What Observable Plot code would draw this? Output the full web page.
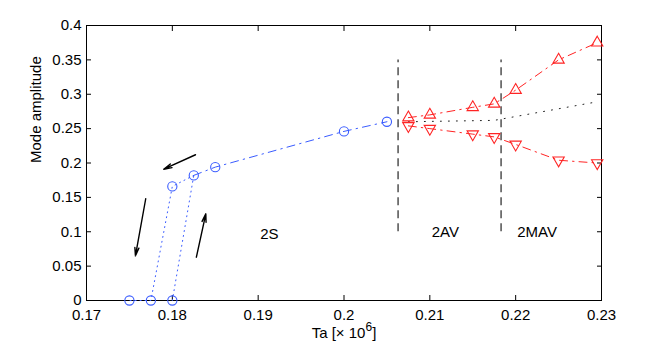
<!DOCTYPE html>
<html>
<head>
<meta charset="utf-8">
<script src="https://cdn.jsdelivr.net/npm/d3@7"></script>
<script src="https://cdn.jsdelivr.net/npm/@observablehq/plot@0.6"></script>
<style>
  html, body { margin: 0; padding: 0; background: #fff; }
</style>
</head>
<body>
<div id="chart"></div>
<script>
// ---- data ----
const xTicks = [0.17, 0.18, 0.19, 0.2, 0.21, 0.22, 0.23];
const yTicks = [0, 0.05, 0.1, 0.15, 0.2, 0.25, 0.3, 0.35, 0.4];

// 2S branch (blue circles)
const blueX = [0.175, 0.1775, 0.18, 0.18, 0.1825, 0.185, 0.2, 0.205];
const blueY = [0, 0, 0, 0.166, 0.182, 0.194, 0.246, 0.260];
// decreasing Ta path (dotted)
const blueDownX = [0.1825, 0.18, 0.1775, 0.175];
const blueDownY = [0.182, 0.166, 0, 0];
// increasing Ta jump (dotted)
const blueUpX = [0.18, 0.1825];
const blueUpY = [0, 0.182];
// main 2S branch (dash-dot)
const blueMainX = [0.1825, 0.185, 0.2, 0.205];
const blueMainY = [0.182, 0.194, 0.246, 0.260];

// 2AV / 2MAV branches (red triangles)
const redX = [0.2075, 0.21, 0.215, 0.2175, 0.22, 0.225, 0.2295];
const redUpY = [0.266, 0.270, 0.281, 0.286, 0.306, 0.350, 0.375];
const redDownY = [0.254, 0.250, 0.242, 0.238, 0.227, 0.204, 0.200];

// black dotted (mean)
const meanX = [0.2075, 0.2175, 0.2295];
const meanY = [0.260, 0.262, 0.289];

// regime boundaries
const boundX = [0.2063, 0.2183];
const boundY1 = 0.1, boundY2 = 0.35;

// region labels
const regionText = ["2S", "2AV", "2MAV"];
const regionX = [0.1913, 0.2118, 0.2225];
const regionY = [0.097, 0.099, 0.099];

// arrows
const arrowX1 = [0.1827, 0.1769, 0.1828];
const arrowY1 = [0.212, 0.148, 0.063];
const arrowX2 = [0.1790, 0.1757, 0.1839];
const arrowY2 = [0.191, 0.065, 0.126];

const xLabel = "Ta [× 10";
const xLabelSup = "6";
const yLabel = "Mode amplitude";

// ---- tables ----
const pts = (xs, ys) => xs.map((x, i) => ({x, y: ys[i]}));
const blue = pts(blueX, blueY);
const blueDown = pts(blueDownX, blueDownY);
const blueUp = pts(blueUpX, blueUpY);
const blueMain = pts(blueMainX, blueMainY);
const redUp = pts(redX, redUpY);
const redDown = pts(redX, redDownY);
const mean = pts(meanX, meanY);
const regions = regionText.map((t, i) => ({t, x: regionX[i], y: regionY[i]}));
const arrows = arrowX1.map((x1, i) => ({x1, y1: arrowY1[i], x2: arrowX2[i], y2: arrowY2[i]}));

const BLUE = "#3a5cff";
const RED = "#ff2424";
const dashDot = "8,5,1.5,5";

const chart = Plot.plot({
  width: 664,
  height: 350,
  marginLeft: 86,
  marginRight: 63,
  marginTop: 25,
  marginBottom: 50,
  style: {fontFamily: "'Liberation Sans', Arial, sans-serif", fontSize: "15px", color: "#000", background: "#fff"},
  x: {domain: [0.17, 0.23]},
  y: {domain: [0, 0.4]},
  marks: [
    Plot.axisX(xTicks, {anchor: "bottom", tickSize: -5, tickPadding: 14, tickFormat: d => String(d), label: null}),
    Plot.axisX(xTicks, {anchor: "top", tickSize: -5, tickFormat: () => "", label: null}),
    Plot.axisY(yTicks, {anchor: "left", tickSize: -5, tickPadding: 10, tickFormat: d => String(d), label: null}),
    Plot.axisY(yTicks, {anchor: "right", tickSize: -5, tickFormat: () => "", label: null}),
    Plot.frame({stroke: "#000", strokeWidth: 1}),

    // regime boundaries
    Plot.ruleX(boundX, {x: d => d, y1: boundY1, y2: boundY2, stroke: "#444", strokeWidth: 1.4, strokeDasharray: "8,5"}),

    // blue lines
    Plot.line(blueDown, {x: "x", y: "y", stroke: BLUE, strokeWidth: 1, strokeDasharray: "1,4"}),
    Plot.line(blueUp, {x: "x", y: "y", stroke: BLUE, strokeWidth: 1, strokeDasharray: "1,4"}),
    Plot.line(blueMain, {x: "x", y: "y", stroke: BLUE, strokeWidth: 1, strokeDasharray: dashDot}),
    Plot.dot(blue, {x: "x", y: "y", r: 4.6, stroke: BLUE, strokeWidth: 1.1, fill: "none"}),

    // black dotted
    Plot.line(mean, {x: "x", y: "y", stroke: "#222", strokeWidth: 1, strokeDasharray: "1,7"}),

    // red branches
    Plot.line(redUp, {x: "x", y: "y", stroke: RED, strokeWidth: 1, strokeDasharray: dashDot}),
    Plot.line(redDown, {x: "x", y: "y", stroke: RED, strokeWidth: 1, strokeDasharray: dashDot}),
    Plot.dot(redUp, {x: "x", y: "y", symbol: "triangle", r: 4.2, stroke: RED, strokeWidth: 1.1, fill: "none"}),
    Plot.dot(redDown, {x: "x", y: "y", symbol: "triangle", rotate: 180, r: 4.2, stroke: RED, strokeWidth: 1.1, fill: "none"}),

    // arrows
    Plot.arrow(arrows, {x1: "x1", y1: "y1", x2: "x2", y2: "y2", stroke: "#000", strokeWidth: 1.4, headAngle: 28, headLength: 9}),

    // region labels
    Plot.text(regions, {x: "x", y: "y", text: "t", fill: "#000", fontSize: 15}),

    // axis labels
    Plot.text([xLabel], {frameAnchor: "bottom", text: d => d, dy: 37, fill: "#000", fontSize: 15, className: "xlab"}),
    Plot.text([yLabel], {frameAnchor: "left", text: d => d, rotate: -90, dx: -50, fill: "#000", fontSize: 15})
  ]
});

// superscript for x label
const xl = d3.select(chart).select("g.xlab text");
if (!xl.empty()) {
  xl.append("tspan").attr("baseline-shift", "super").attr("font-size", "12px").text(xLabelSup);
  xl.append("tspan").text("]");
}

document.getElementById("chart").appendChild(chart);
</script>
</body>
</html>
